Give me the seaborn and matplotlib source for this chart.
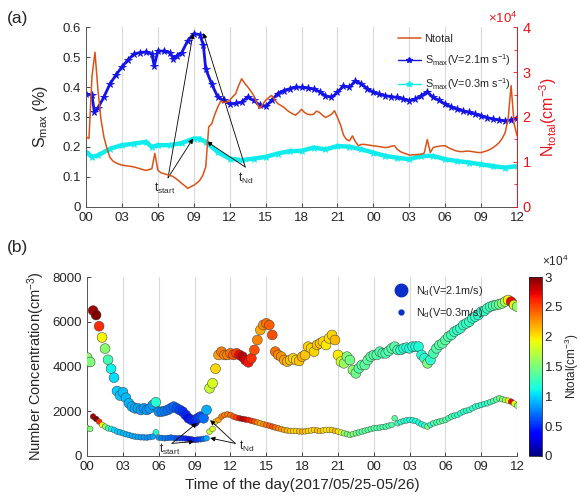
import numpy as np
import pandas as pd
import matplotlib
matplotlib.use("Agg")
import matplotlib.pyplot as plt
from matplotlib.lines import Line2D
from matplotlib.ticker import MultipleLocator, ScalarFormatter
import seaborn as sns

# ---------------- data ----------------
hour_ticks = [0, 3, 6, 9, 12, 15, 18, 21, 24, 27, 30, 33, 36]
hour_labels = ["00", "03", "06", "09", "12", "15", "18", "21", "00", "03", "06", "09", "12"]
cbar_ticks = [0, 5000, 10000, 15000, 20000, 25000, 30000]
cbar_labels = ["0", "0.5", "1", "1.5", "2", "2.5", "3"]

# quarter-hour time grid, hours since 2017/05/25 00:00
t_q = np.arange(0, 36.25, 0.25)

# Ntotal (cm^-3), 12 values per 3-hour row
ntotal = [15600, 15200, 29000, 34400, 26000, 19500, 15500, 13000, 11000, 10200, 9800, 9500,
          9300, 9200, 9100, 9000, 8900, 8700, 8500, 8300, 8100, 8300, 8500, 11900,
          8200, 7600, 7400, 7200, 7000, 6800, 6300, 5800, 5200, 4700, 4100, 4500,
          4800, 5300, 5900, 7000, 8900, 17800, 18500, 20500, 22200, 23500, 23300, 23300,
          23700, 24500, 25200, 27000, 28500, 27500, 26700, 25800, 24800, 23200, 21900, 22800,
          23700, 24300, 24800, 23900, 23000, 22600, 22200, 21600, 21100, 20700, 20400, 21000,
          21700, 21000, 20600, 20500, 20600, 21300, 21000, 20400, 19900, 20200, 20600, 21400,
          19900, 18300, 16000, 15000, 14700, 15800, 14500, 13600, 13900, 13900, 13800, 13700,
          13600, 13500, 13400, 13300, 13200, 13300, 13500, 13600, 12800, 12300, 12000, 11800,
          11500, 11600, 11600, 11700, 11700, 12000, 15000, 12100, 13200, 13400, 13500, 13600,
          13600, 13200, 12900, 12600, 12400, 12300, 12300, 12400, 12400, 12300, 12200, 12100,
          12100, 12300, 12500, 12800, 13200, 13700, 14300, 15200, 16500, 19500, 27000, 18500,
          15800]

# Droplet number, V = 2.1 m/s
nd21 = [4400, 4200, 6500, 6300, 5800, 5300, 4800, 4300, 3900, 3500, 2900, 2700,
        2850, 2600, 2354, 2205, 2130, 2130, 2056, 2130, 2056, 2130, 2280, 2400,
        1980, 1980, 2010, 2056, 2130, 2205, 2130, 2056, 1980, 1830, 1683, 1610,
        1535, 1683, 1760, 1683, 2056, 3025, 3250, 3900, 4515, 4660, 4515, 4515,
        4590, 4515, 4590, 4515, 4440, 4290, 4187, 4366, 4740, 5185, 5632, 5856,
        5930, 5856, 5410, 4664, 4515, 4440, 4290, 4217, 4290, 4366, 4290, 4247,
        4440, 4515, 4887, 4812, 4664, 4962, 5036, 5111, 4962, 5260, 5410, 5185,
        4515, 4217, 4142, 4440, 4290, 3844, 3695, 3919, 4068, 4068, 4290, 4440,
        4515, 4515, 4664, 4590, 4590, 4694, 4812, 4887, 4740, 4740, 4812, 4842,
        4812, 4887, 4887, 4887, 4515, 4366, 4142, 4290, 4590, 4812, 4962, 5036,
        5185, 5334, 5410, 5558, 5632, 5707, 5856, 5930, 6005, 6154, 6228, 6303,
        6452, 6480, 6600, 6675, 6720, 6750, 6780, 6824, 6900, 6973, 6900, 6750,
        6675]

# Droplet number, V = 0.3 m/s
nd03 = [1237, 1207, 1760, 1654, 1535, 1386, 1311, 1237, 1207, 1162, 1088, 1058,
        1013, 969, 939, 894, 864, 850, 834, 828, 820, 840, 864, 1058,
        820, 805, 790, 805, 820, 805, 790, 790, 790, 775, 760, 740,
        715, 730, 745, 765, 790, 1088, 1207, 1535, 1610, 1760, 1833, 1862,
        1833, 1760, 1714, 1684, 1654, 1630, 1610, 1570, 1535, 1500, 1460, 1420,
        1386, 1350, 1311, 1270, 1237, 1200, 1162, 1140, 1118, 1118, 1118, 1100,
        1088, 1100, 1118, 1140, 1162, 1140, 1118, 1140, 1162, 1162, 1162, 1120,
        1088, 1050, 1013, 975, 939, 975, 1013, 1050, 1088, 1125, 1162, 1200,
        1237, 1250, 1267, 1290, 1311, 1350, 1386, 1684, 1460, 1510, 1565, 1590,
        1610, 1590, 1565, 1490, 1415, 1360, 1311, 1390, 1460, 1500, 1535, 1570,
        1610, 1685, 1760, 1800, 1833, 1910, 1982, 2020, 2056, 2130, 2205, 2240,
        2280, 2320, 2354, 2405, 2459, 2520, 2578, 2540, 2503, 2470, 2429, 2340,
        2250]

# Smax for V = 2.1 m/s
t_s21 = [0, 0.5, 0.7, 1, 1.5, 2, 2.5, 3, 3.5, 4, 4.5, 5, 5.5, 5.7, 6, 6.5, 7, 7.3, 7.6, 8,
         8.5, 9, 9.5, 9.8, 10, 10.5, 11, 11.5, 12, 12.5, 13, 13.5, 14, 14.5, 15, 15.5, 16,
         16.5, 17, 17.5, 18, 18.5, 19, 19.5, 20, 20.5, 21, 21.5, 22, 22.5, 23, 23.5, 24,
         24.5, 25, 25.5, 26, 26.5, 27, 27.5, 28, 28.5, 29, 29.5, 30, 30.5, 31, 31.5, 32,
         32.5, 33, 33.5, 34, 34.5, 35, 35.5, 36]
smax21 = [0.378, 0.372, 0.317, 0.33, 0.367, 0.41, 0.44, 0.467, 0.49, 0.51, 0.515, 0.517,
          0.51, 0.47, 0.52, 0.52, 0.515, 0.495, 0.505, 0.515, 0.555, 0.578, 0.575, 0.54,
          0.46, 0.41, 0.367, 0.355, 0.344, 0.345, 0.35, 0.367, 0.355, 0.34, 0.335, 0.355,
          0.378, 0.388, 0.394, 0.4, 0.399, 0.397, 0.393, 0.385, 0.371, 0.365, 0.382, 0.404,
          0.399, 0.421, 0.41, 0.395, 0.382, 0.376, 0.371, 0.368, 0.365, 0.36, 0.354, 0.36,
          0.371, 0.384, 0.365, 0.355, 0.343, 0.334, 0.326, 0.32, 0.315, 0.31, 0.304, 0.298,
          0.293, 0.29, 0.287, 0.29, 0.298]

# Smax for V = 0.3 m/s
t_s03 = [0, 0.5, 1, 2, 3, 4, 5, 5.5, 6, 7, 8, 9, 9.5, 10, 11, 12, 13, 14, 15, 16, 17, 18,
         19, 20, 21, 22, 23, 24, 25, 26, 27, 28, 29, 30, 31, 32, 33, 34, 35, 36]
smax03 = [0.183, 0.167, 0.172, 0.194, 0.206, 0.211, 0.217, 0.2, 0.206, 0.206, 0.213,
          0.228, 0.228, 0.217, 0.183, 0.161, 0.156, 0.161, 0.167, 0.178, 0.186, 0.187,
          0.198, 0.192, 0.203, 0.201, 0.192, 0.181, 0.17, 0.164, 0.159, 0.17, 0.17,
          0.159, 0.153, 0.148, 0.142, 0.136, 0.131, 0.136]

df_n = pd.DataFrame({"t": t_q, "ntotal": ntotal, "nd21": nd21, "nd03": nd03})
df_s21 = pd.DataFrame({"t": t_s21, "smax": smax21})
df_s03 = pd.DataFrame({"t": t_s03, "smax": smax03})

# ---------------- style ----------------
sns.set_style("ticks")
plt.rcParams["font.family"] = ["Liberation Sans", "DejaVu Sans"]
plt.rcParams["mathtext.fontset"] = "custom"
plt.rcParams["mathtext.rm"] = "Liberation Sans"
plt.rcParams["mathtext.it"] = "Liberation Sans:italic"
plt.rcParams["xtick.direction"] = "in"
plt.rcParams["ytick.direction"] = "in"

TXT = "#262626"
ORANGE = "#D95319"
BLUE = "#1414E6"
CYAN = "#10ECEC"
RED = "#E8141E"
GRID = "#DADADA"

fig = plt.figure(figsize=(5.81, 5.01), dpi=100)
ax1 = fig.add_axes([0.148, 0.587, 0.742, 0.359])
ax2 = fig.add_axes([0.150, 0.090, 0.740, 0.357])
cax = fig.add_axes([0.910, 0.090, 0.0224, 0.357])

# ---------------- panel (a) ----------------
sns.lineplot(data=df_s03, x="t", y="smax", ax=ax1, color=CYAN, lw=3.2, marker="*",
             markersize=5, markeredgewidth=0.6, markeredgecolor=CYAN, sort=False,
             estimator=None)
sns.lineplot(data=df_s21, x="t", y="smax", ax=ax1, color=BLUE, lw=2.0, marker="*",
             markersize=5.5, markeredgewidth=0.6, markeredgecolor=BLUE, sort=False,
             estimator=None)
ax1.set_xlim(0, 36)
ax1.set_ylim(0, 0.6)
ax1.set_yticks(np.arange(0, 0.61, 0.1))
ax1.set_yticklabels(["0", "0.1", "0.2", "0.3", "0.4", "0.5", "0.6"])
ax1.set_xticks(hour_ticks)
ax1.set_xticklabels(hour_labels)
ax1.xaxis.grid(True, color=GRID, lw=0.8)
ax1.set_xlabel("")
ax1.set_ylabel(r"S$_{\rm max}$ (%)", fontsize=11.5, color=TXT, labelpad=9)
ax1.tick_params(labelsize=9.5, colors=TXT, length=3, width=0.6)
for s in ["top", "right"]:
    ax1.spines[s].set_visible(False)
for s in ["left", "bottom"]:
    ax1.spines[s].set_color("#555555")
    ax1.spines[s].set_linewidth(0.7)

ax1r = ax1.twinx()
sns.lineplot(data=df_n, x="t", y="ntotal", ax=ax1r, color=ORANGE, lw=1.1, sort=False,
             estimator=None)
ax1r.set_ylim(0, 40000)
ax1r.set_yticks(np.arange(0, 40001, 10000))
ax1r.yaxis.set_minor_locator(MultipleLocator(5000))
fmt = ScalarFormatter(useMathText=True)
fmt.set_powerlimits((0, 0))
ax1r.yaxis.set_major_formatter(fmt)
ax1r.yaxis.get_offset_text().set_color(RED)
ax1r.yaxis.get_offset_text().set_fontsize(9.5)
ax1r.set_ylabel(r"N$_{\rm total}$(cm$^{-3}$)", fontsize=11.5, color=RED)
ax1r.tick_params(axis="y", labelsize=10.5, colors=RED, length=3, width=0.6, which="both")
ax1r.tick_params(axis="y", which="minor", length=2)
ax1r.set_xlim(0, 36)
for s in ["top", "left", "bottom"]:
    ax1r.spines[s].set_visible(False)
ax1r.spines["right"].set_color(RED)
ax1r.spines["right"].set_linewidth(0.7)

handles = [
    Line2D([], [], color=ORANGE, lw=1.1),
    Line2D([], [], color=BLUE, lw=1.0, marker="*", markersize=4),
    Line2D([], [], color=CYAN, lw=1.0, marker="*", markersize=4),
]
labels = ["Ntotal", r"S$_{\rm max}$(V=2.1m s$^{-1}$)", r"S$_{\rm max}$(V=0.3m s$^{-1}$)"]
ax1r.legend(handles, labels, loc="upper right", bbox_to_anchor=(0.995, 0.985),
            frameon=False, fontsize=7.8, handlelength=2.2, labelspacing=0.75,
            handletextpad=0.3, borderaxespad=0)

arrow = dict(arrowstyle="-|>", lw=0.6, color="black", mutation_scale=7, shrinkA=0, shrinkB=0)
for tip in [(8.94, 0.578), (8.94, 0.228)]:
    ax1.annotate("", xy=tip, xytext=(6.85, 0.097), arrowprops=arrow)
for tip in [(9.8, 0.58), (10.1, 0.218)]:
    ax1.annotate("", xy=tip, xytext=(13.3, 0.133), arrowprops=arrow)
ax1.text(6.6, 0.06, r"t$_{\rm start}$", ha="center", va="center", fontsize=8.5, color=TXT)
ax1.text(13.35, 0.095, r"t$_{\rm Nd}$", ha="center", va="center", fontsize=8.5, color=TXT)

# ---------------- panel (b) ----------------
cmap = matplotlib.colormaps["jet"]
norm = matplotlib.colors.Normalize(0, 30000)
sns.scatterplot(data=df_n, x="t", y="nd21", hue="ntotal", palette=cmap, hue_norm=norm,
                ax=ax2, s=50, edgecolor="#3a3a3a", linewidth=0.35, legend=False, zorder=3)
sns.scatterplot(data=df_n, x="t", y="nd03", hue="ntotal", palette=cmap, hue_norm=norm,
                ax=ax2, s=17, edgecolor="#3a3a3a", linewidth=0.3, legend=False, zorder=3)
ax2.set_xlim(0, 36)
ax2.set_ylim(0, 8000)
ax2.set_yticks(np.arange(0, 8001, 2000))
ax2.set_xticks(hour_ticks)
ax2.set_xticklabels(hour_labels)
ax2.xaxis.grid(True, color=GRID, lw=0.8)
ax2.set_axisbelow(True)
ax2.set_xlabel("Time of the day(2017/05/25-05/26)", fontsize=11, color=TXT)
ax2.set_ylabel(r"Number Concentration(cm$^{-3}$)", fontsize=10.5, color=TXT)
ax2.tick_params(labelsize=9.5, colors=TXT, length=3, width=0.6)
for s in ["top", "right"]:
    ax2.spines[s].set_visible(False)
for s in ["left", "bottom"]:
    ax2.spines[s].set_color("#555555")
    ax2.spines[s].set_linewidth(0.7)

h2 = [
    Line2D([], [], ls="", marker="o", markersize=9, markerfacecolor="#0a2fc8",
           markeredgecolor="#0a2fc8"),
    Line2D([], [], ls="", marker="o", markersize=3.5, markerfacecolor="#0a2fc8",
           markeredgecolor="#0a2fc8"),
]
ax2.legend(h2, [r"N$_{\rm d}$(V=2.1m/s)", r"N$_{\rm d}$(V=0.3m/s)"], loc="upper left",
           bbox_to_anchor=(0.695, 0.985), frameon=False, fontsize=7.8,
           handletextpad=0.4, labelspacing=0.7, borderaxespad=0)

for tip in [(9.2, 1475), (8.95, 640)]:
    ax2.annotate("", xy=tip, xytext=(7.1, 560), arrowprops=arrow)
for tip in [(10.3, 1600), (10.3, 800)]:
    ax2.annotate("", xy=tip, xytext=(12.4, 560), arrowprops=arrow)
ax2.text(6.95, 300, r"t$_{\rm start}$", ha="center", va="center", fontsize=8.5, color=TXT)
ax2.text(13.4, 420, r"t$_{\rm Nd}$", ha="center", va="center", fontsize=8.5, color=TXT)

sm = matplotlib.cm.ScalarMappable(cmap=cmap, norm=norm)
cb = fig.colorbar(sm, cax=cax)
cb.set_ticks(cbar_ticks)
cb.set_ticklabels(cbar_labels)
cb.ax.tick_params(labelsize=9.5, colors=TXT, length=2, width=0.5, direction="in", pad=2)
cb.outline.set_linewidth(0.6)
cb.set_label(r"Ntotal(cm$^{-3}$)", fontsize=8.5, color=TXT, labelpad=0)
cb.ax.text(1.05, 1.045, r"$\times$10$^{4}$", transform=cb.ax.transAxes, ha="left",
           va="bottom", fontsize=8.5, color=TXT)

fig.text(0.012, 0.955, "(a)", fontsize=12.5, color=TXT)
fig.text(0.012, 0.497, "(b)", fontsize=12.5, color=TXT)

fig.savefig("out.png", dpi=100)
